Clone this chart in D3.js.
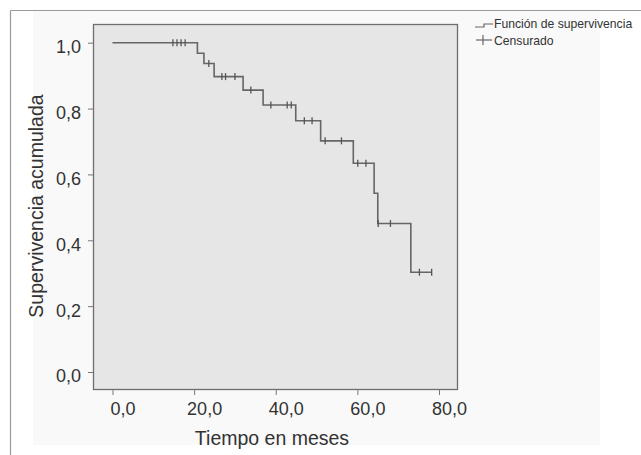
<!DOCTYPE html>
<html>
<head>
<meta charset="utf-8">
<script src="https://cdn.jsdelivr.net/npm/d3@7/dist/d3.min.js"></script>
<style>
  html, body { margin: 0; padding: 0; background: #ffffff; }
  svg { display: block; }
  text { font-family: "Liberation Sans", Arial, sans-serif; fill: #333333; }
</style>
</head>
<body>
<svg id="chart" width="641" height="455"></svg>
<script>
// ---- Data ----
const eventTimes = [20.8, 22.4, 24.9, 32.0, 36.9, 44.9, 51.0, 59.0, 64.1, 65.0, 73.1];
const eventSurv  = [0.968, 0.937, 0.897, 0.856, 0.811, 0.763, 0.702, 0.634, 0.543, 0.451, 0.303];
const censorTimes = [14.8, 15.8, 16.8, 17.8, 23.6, 26.8, 27.7, 30.0, 33.9, 38.8, 42.8, 43.8,
                     47.0, 48.9, 52.1, 56.1, 60.1, 62.1, 65.1, 68.1, 75.2, 78.2];
const endTime = 78.2;
const xTicks = [0, 20, 40, 60, 80];
const yTicks = [0, 0.2, 0.4, 0.6, 0.8, 1.0];
const xTitle = "Tiempo en meses";
const yTitle = "Supervivencia acumulada";
const legendLabels = ["Función de supervivencia", "Censurado"];

// ---- Layout ----
const svg = d3.select("#chart");
const plot = { left: 93, top: 24, right: 457, bottom: 389 };

const x = d3.scaleLinear().domain([0, 80]).range([112.5, 439]);
const y = d3.scaleLinear().domain([0, 1]).range([372, 42.7]);

const fmt = v => d3.format(".1f")(v).replace(".", ",");

// outer frame + inner light panel
svg.append("rect").attr("x", 33).attr("y", 11).attr("width", 567).attr("height", 434)
  .attr("fill", "#f9f9f9");
svg.append("line").attr("x1", 10.5).attr("x2", 10.5).attr("y1", 10.5).attr("y2", 455)
  .attr("stroke", "#9a9a9a").attr("stroke-width", 1.2);
svg.append("line").attr("x1", 10.5).attr("x2", 641).attr("y1", 10.5).attr("y2", 10.5)
  .attr("stroke", "#9a9a9a").attr("stroke-width", 1.2);

// plot area
svg.append("rect")
  .attr("x", plot.left + 0.5).attr("y", plot.top + 0.5)
  .attr("width", plot.right - plot.left).attr("height", plot.bottom - plot.top)
  .attr("fill", "#e6e6e6").attr("stroke", "#6e6e6e").attr("stroke-width", 1.3);

// y axis ticks + labels
const yAxis = d3.axisLeft(y).tickValues(yTicks).tickSize(5).tickPadding(7).tickFormat(fmt);
const gy = svg.append("g").attr("transform", `translate(${plot.left},0)`).call(yAxis);
gy.select(".domain").remove();
gy.selectAll(".tick line").attr("stroke", "#777");
gy.selectAll(".tick text").attr("font-size", 18).attr("fill", "#333")
  .attr("font-family", "'Liberation Sans', Arial, sans-serif").attr("dy", "0.55em");

// x axis ticks + labels
const xAxis = d3.axisBottom(x).tickValues(xTicks).tickSize(6).tickPadding(7).tickFormat(fmt);
const gx = svg.append("g").attr("transform", `translate(0,${plot.bottom})`).call(xAxis);
gx.select(".domain").remove();
gx.selectAll(".tick line").attr("stroke", "#777");
gx.selectAll(".tick text").attr("font-size", 18).attr("fill", "#333")
  .attr("font-family", "'Liberation Sans', Arial, sans-serif").attr("dx", "10");

// axis titles
svg.append("text").attr("x", 272).attr("y", 445).attr("text-anchor", "middle")
  .attr("font-size", 19.5).text(xTitle);
svg.append("text").attr("transform", "translate(43,206) rotate(-90)").attr("text-anchor", "middle")
  .attr("font-size", 19.5).text(yTitle);

// survival step path
const pts = [[0, 1]];
eventTimes.forEach((t, i) => pts.push([t, eventSurv[i]]));
pts.push([endTime, eventSurv[eventSurv.length - 1]]);
const line = d3.line().x(d => x(d[0])).y(d => y(d[1])).curve(d3.curveStepAfter);
svg.append("path").datum(pts).attr("d", line)
  .attr("fill", "none").attr("stroke", "#666").attr("stroke-width", 1.6);

// censor marks
function survAt(t) {
  let s = 1;
  eventTimes.forEach((et, i) => { if (et <= t) s = eventSurv[i]; });
  return s;
}
svg.append("g").selectAll("line").data(censorTimes).join("line")
  .attr("x1", d => x(d)).attr("x2", d => x(d))
  .attr("y1", d => y(survAt(d)) - 3.5).attr("y2", d => y(survAt(d)) + 3.5)
  .attr("stroke", "#555").attr("stroke-width", 1.3);

// legend
const lg = svg.append("g");
lg.append("path").attr("d", "M475,27 L484,27 L484,24 L493,24")
  .attr("fill", "none").attr("stroke", "#666").attr("stroke-width", 1.2);
lg.append("text").attr("x", 494).attr("y", 28).attr("font-size", 12.2)
  .text(legendLabels[0]);
lg.append("line").attr("x1", 476).attr("x2", 492).attr("y1", 40).attr("y2", 40)
  .attr("stroke", "#666").attr("stroke-width", 1.2);
lg.append("line").attr("x1", 483).attr("x2", 483).attr("y1", 35).attr("y2", 45)
  .attr("stroke", "#666").attr("stroke-width", 1.2);
lg.append("text").attr("x", 494).attr("y", 45).attr("font-size", 12.2)
  .text(legendLabels[1]);
</script>
</body>
</html>
